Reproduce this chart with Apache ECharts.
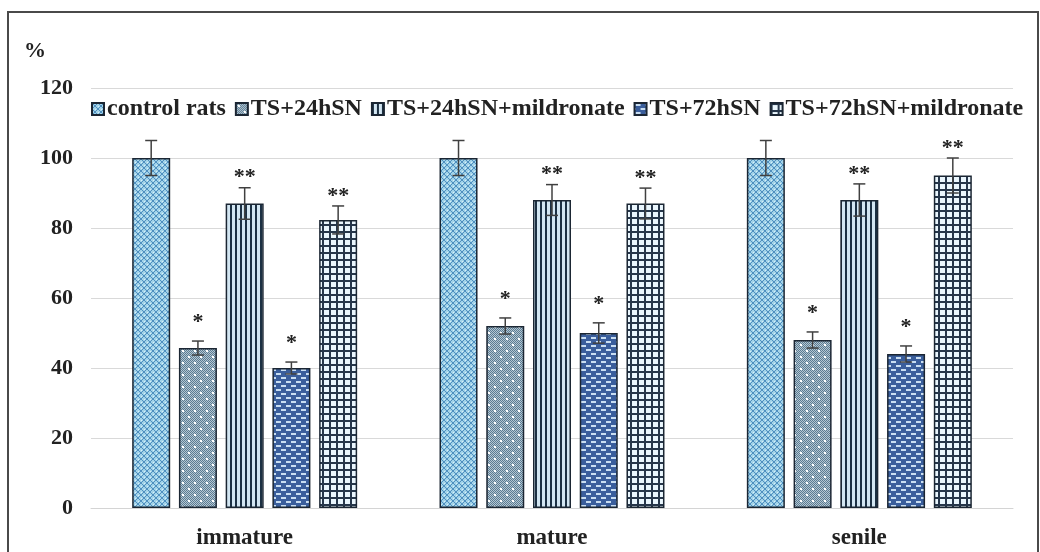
<!DOCTYPE html>
<html>
<head>
<meta charset="utf-8">
<script src="https://cdn.jsdelivr.net/npm/echarts@6/dist/echarts.min.js"></script>
<style>
  html, body { margin: 0; padding: 0; background: #ffffff; }
  #chart { width: 1040px; height: 552px; }
</style>
</head>
<body>
<div id="chart"></div>
<script>
// Groups on the x axis
const categories = ['immature', 'mature', 'senile'];

// Series names, as shown in the legend
const seriesNames = ['control rats', 'TS+24hSN', 'TS+24hSN+mildronate', 'TS+72hSN', 'TS+72hSN+mildronate'];

// Mean values (%) per group
const controlRats   = [100, 100, 100];
const ts24          = [45.7, 52, 48];
const ts24Mild      = [87, 88, 88];
const ts72          = [40, 50, 44];
const ts72Mild      = [82.3, 87, 95];

// Error bar half-widths (%)
const controlErr    = [5, 5, 5];
const ts24Err       = [2, 2.3, 2.3];
const ts24MildErr   = [4.5, 4.4, 4.6];
const ts72Err       = [1.7, 2.9, 2.3];
const ts72MildErr   = [4, 4.4, 5];

// Significance marks per series
const marks = ['', '*', '**', '*', '**'];

// Y axis ticks
const yMin = 0, yMax = 120, yStep = 20;

const values = [controlRats, ts24, ts24Mild, ts72, ts72Mild];
const errors = [controlErr, ts24Err, ts24MildErr, ts72Err, ts72MildErr];

const SERIF = "'Liberation Serif', 'Times New Roman', serif";
const BAR_W = 38;
const BAR_GAP = 0.23;

// ---- fill patterns ----
function tile(w, h, draw) {
  const c = document.createElement('canvas');
  c.width = w; c.height = h;
  const g = c.getContext('2d');
  draw(g, w, h);
  return { image: c, repeat: 'repeat' };
}

// light blue with diagonal lattice
const patControl = tile(6, 6, (g, w, h) => {
  g.fillStyle = '#a2d3e9'; g.fillRect(0, 0, w, h);
  g.fillStyle = '#4f8fbf';
  for (let i = 0; i < 6; i++) {
    g.fillRect(i, i, 1, 1);
    g.fillRect(5 - i, i, 1, 1);
  }
  g.fillStyle = '#d8eff8';
  g.fillRect(0, 3, 1, 1); g.fillRect(3, 0, 1, 1);
});

// grey-blue fine checker with white dots
const pat24 = tile(12, 12, (g, w, h) => {
  for (let y = 0; y < h; y++) for (let x = 0; x < w; x++) {
    g.fillStyle = ((x + y) % 2 === 0) ? '#5b7b92' : '#b4c7d3';
    g.fillRect(x, y, 1, 1);
  }
  g.fillStyle = '#ffffff';
  g.fillRect(2, 2, 2, 2);
  g.fillRect(8, 8, 2, 2);
});

// vertical stripes
const pat24Mild = tile(5, 4, (g, w, h) => {
  g.fillStyle = '#d3e6f2'; g.fillRect(0, 0, w, h);
  g.fillStyle = '#1c3043'; g.fillRect(0, 0, 2, h);
});

// dark blue with light dashes
const pat72 = tile(10, 8, (g, w, h) => {
  g.fillStyle = '#3a5e9c'; g.fillRect(0, 0, w, h);
  g.fillStyle = '#c9def2';
  g.fillRect(1, 1, 5, 2);
  g.fillRect(6, 5, 4, 2); g.fillRect(0, 5, 1, 2);
});

// grid
const pat72Mild = tile(7, 7, (g, w, h) => {
  g.fillStyle = '#eaf6fd'; g.fillRect(0, 0, w, h);
  g.fillStyle = '#26364a';
  g.fillRect(0, 0, 2, h);
  g.fillRect(0, 0, w, 2);
});

const patterns = [patControl, pat24, pat24Mild, pat72, pat72Mild];
const starOffset = [0, 24, 15, 24, 15];

const barSeries = seriesNames.map((name, s) => ({
  name: name,
  type: 'bar',
  barWidth: BAR_W,
  barGap: (BAR_GAP * 100) + '%',
  data: values[s],
  itemStyle: { color: patterns[s], borderColor: '#1b2633', borderWidth: 1.5 },
  emphasis: { disabled: true }
}));

// error bars + significance marks
const errData = [];
values.forEach((arr, s) => arr.forEach((v, c) => errData.push([c, v, errors[s][c], s])));

const errSeries = {
  type: 'custom',
  z: 5,
  silent: true,
  data: errData,
  encode: { x: 0, y: 1 },
  renderItem: function (params, api) {
    const c = api.value(0), v = api.value(1), e = api.value(2), s = api.value(3);
    const step = BAR_W * (1 + BAR_GAP);
    const base = api.coord([c, v]);
    const x = base[0] + (s - 2) * step;
    const yTop = api.coord([c, v + e])[1];
    const yBot = api.coord([c, v - e])[1];
    const cap = 6;
    const lineStyle = { stroke: '#404040', lineWidth: 1.5 };
    const children = [
      { type: 'line', shape: { x1: x, y1: yTop, x2: x, y2: yBot }, style: lineStyle },
      { type: 'line', shape: { x1: x - cap, y1: yTop, x2: x + cap, y2: yTop }, style: lineStyle },
      { type: 'line', shape: { x1: x - cap, y1: yBot, x2: x + cap, y2: yBot }, style: lineStyle }
    ];
    if (marks[s]) {
      children.push({
        type: 'text',
        style: {
          text: marks[s], x: x, y: yTop - starOffset[s] + 5,
          align: 'center', verticalAlign: 'middle',
          font: 'bold 22px ' + SERIF, fill: '#222222'
        }
      });
    }
    return { type: 'group', children: children };
  }
};

const chart = echarts.init(document.getElementById('chart'), null, { renderer: 'canvas' });
chart.setOption({
  animation: false,
  backgroundColor: '#ffffff',
  grid: { left: 91, right: 27, top: 88, bottom: 44 },
  legend: {
    data: seriesNames,
    left: 91, top: 97, padding: 0,
    itemWidth: 12, itemHeight: 12, itemGap: 9,
    icon: 'rect',
    textStyle: { fontFamily: SERIF, fontWeight: 'bold', fontSize: 24, color: '#222222', padding: [0, 0, 0, -2] },
    selectedMode: false
  },
  xAxis: {
    type: 'category',
    data: categories,
    axisLine: { lineStyle: { color: '#d4d4d4', width: 1 } },
    axisTick: { show: false },
    axisLabel: { fontFamily: SERIF, fontWeight: 'bold', fontSize: 23, color: '#222222', margin: 19 }
  },
  yAxis: {
    type: 'value',
    min: yMin, max: yMax, interval: yStep,
    axisLine: { show: false },
    axisTick: { show: false },
    splitLine: { lineStyle: { color: '#d9d9d9', width: 1 } },
    axisLabel: { fontFamily: SERIF, fontWeight: 'bold', fontSize: 22, color: '#222222', margin: 18 }
  },
  graphic: [
    { type: 'polyline', shape: { points: [[8, 560], [8, 12], [1038, 12], [1038, 560]] },
      style: { stroke: '#4a4a4a', lineWidth: 2, fill: null }, silent: true },
    { type: 'text', left: 24, top: 40,
      style: { text: '%', font: 'bold 22px ' + SERIF, fill: '#222222' } }
  ],
  series: barSeries.concat([errSeries])
});
</script>
</body>
</html>
